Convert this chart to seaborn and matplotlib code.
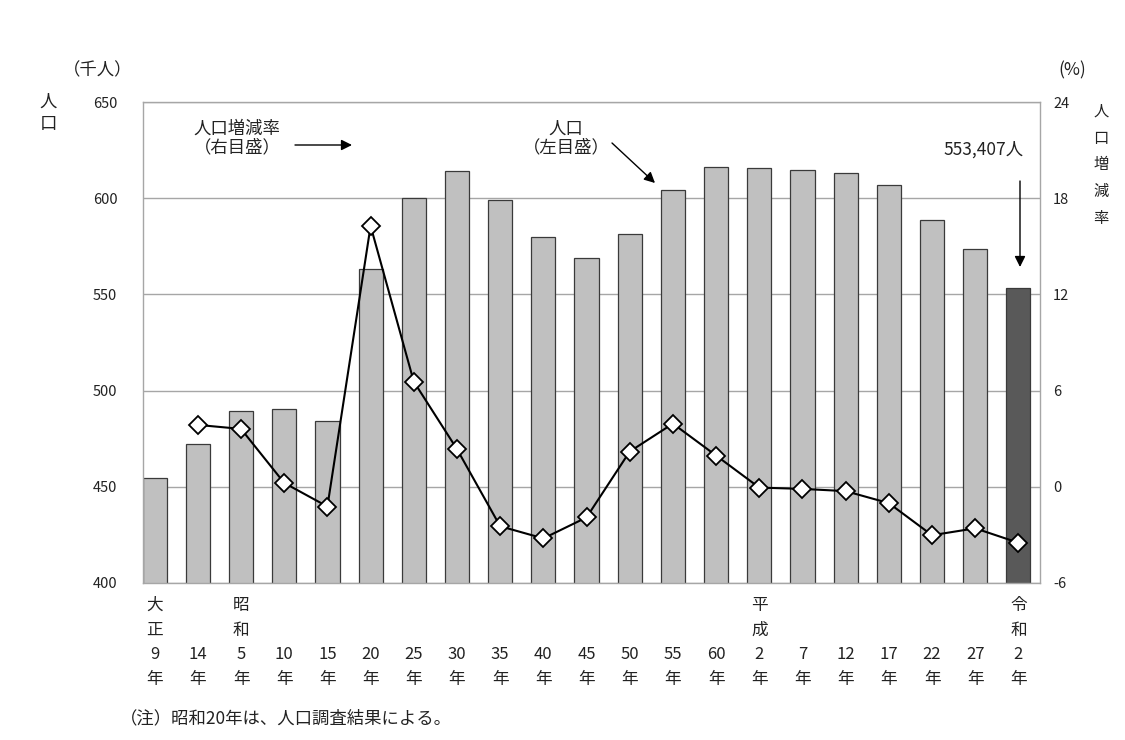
import matplotlib
matplotlib.use("Agg")
import matplotlib.pyplot as plt
import seaborn as sns
import pandas as pd
import numpy as np

# ---- data ----
eras = ["大\n正", "", "昭\n和", "", "", "", "", "", "", "", "", "", "", "",
        "平\n成", "", "", "", "", "", "令\n和"]
years = ["9", "14", "5", "10", "15", "20", "25", "30", "35", "40", "45",
         "50", "55", "60", "2", "7", "12", "17", "22", "27", "2"]
population = [454.7, 472.2, 489.3, 490.5, 484.4, 563.2, 600.2, 614.3, 599.1,
              579.9, 568.8, 581.3, 604.2, 616.0, 615.7, 614.9, 613.3, 607.0,
              588.7, 573.4, 553.4]
rate = [None, 3.86, 3.61, 0.24, -1.23, 16.27, 6.56, 2.35, -2.46, -3.22, -1.91,
        2.20, 3.94, 1.95, -0.05, -0.13, -0.27, -1.02, -3.02, -2.59, -3.49]
left_ticks = [400, 450, 500, 550, 600, 650]
right_ticks = [-6, 0, 6, 12, 18, 24]

sns.set_theme(style="white")
plt.rcParams['font.family'] = ['Noto Sans CJK JP', 'DejaVu Sans']

W, H = 1125, 740
fig = plt.figure(figsize=(W / 100, H / 100), dpi=100)
ax = fig.add_axes([143 / W, 1 - 583 / H, (1040 - 143) / W, (583 - 102) / H])

keys = [f"k{i}" for i in range(len(population))]
df = pd.DataFrame({"key": keys, "pop": population})
colors = ["#C0C0C0"] * (len(keys) - 1) + ["#595959"]
sns.barplot(data=df, x="key", y="pop", hue="key", palette=colors, legend=False,
            width=0.56, edgecolor="#3a3a3a", linewidth=0.9, saturation=1, ax=ax)

ax.set_ylim(400, 650)
ax.set_yticks(left_ticks)
ax.set_xlim(-0.27, 20.5)
ax.yaxis.grid(True, color="#A6A6A6", linewidth=1.0)
ax.set_axisbelow(True)
for s in ax.spines.values():
    s.set_color("#A6A6A6")
    s.set_linewidth(1.0)
ax.tick_params(axis="y", length=0, labelsize=10.5, pad=18.5, colors="#222222")
ax.set_xlabel("")
ax.set_ylabel("")

labels = []
for e, y in zip(eras, years):
    top = e if e else "\n"
    labels.append(top + "\n" + y + "\n年")
ax.set_xticks(range(len(keys)))
ax.set_xticklabels(labels, fontsize=12, linespacing=1.6, va="top")
ax.tick_params(axis="x", length=0, pad=10, colors="#222222")

ax2 = ax.twinx()
xs = [i for i, r in enumerate(rate) if r is not None]
ys = [r for r in rate if r is not None]
sns.lineplot(x=xs, y=ys, ax=ax2, color="black", linewidth=1.5, marker="D",
             markersize=9, markerfacecolor="white", markeredgecolor="black",
             markeredgewidth=1.3, zorder=5)
ax2.set_ylim(-6, 24)
ax2.set_yticks(right_ticks)
ax2.set_yticklabels([str(t) for t in right_ticks])
ax2.tick_params(axis="y", length=0, labelsize=10.5, pad=9.5, colors="#222222")
ax2.grid(False)
for s in ax2.spines.values():
    s.set_visible(False)
ax2.set_ylabel("")

def fp(x, y):
    return (x / W, 1 - y / H)

kw = dict(fontsize=12.5, color="#222222")
fig.text(*fp(98, 70), "（千人）", ha="center", va="center", **kw)
fig.text(*fp(48, 113), "人\n口", ha="center", va="center", linespacing=1.3, **kw)
fig.text(*fp(1072, 70), "(%)", ha="center", va="center", **kw)
fig.text(*fp(1101, 165), "人\n口\n増\n減\n率", ha="center", va="center",
         fontsize=11, linespacing=1.75, color="#222222")

fig.text(*fp(237, 138), "人口増減率\n（右目盛）", ha="center", va="center",
         linespacing=1.0, **kw)
fig.text(*fp(566, 138), "人口\n（左目盛）", ha="center", va="center",
         linespacing=1.0, **kw)
fig.text(*fp(1024, 150), "553,407人", ha="right", va="center", **kw)
fig.text(*fp(120, 718), "（注）昭和20年は、人口調査結果による。", ha="left",
         va="center", **kw)

arrow = dict(arrowstyle="-|>", color="black", lw=1.0, mutation_scale=16,
             shrinkA=0, shrinkB=0)
ax.annotate("", xy=fp(352, 145), xytext=fp(295, 145),
            xycoords="figure fraction", textcoords="figure fraction",
            arrowprops=arrow)
ax.annotate("", xy=fp(655, 183), xytext=fp(612, 143),
            xycoords="figure fraction", textcoords="figure fraction",
            arrowprops=arrow)
ax.annotate("", xy=fp(1020, 267), xytext=fp(1020, 181),
            xycoords="figure fraction", textcoords="figure fraction",
            arrowprops=arrow)

fig.savefig("out.png", dpi=100, facecolor="white")
